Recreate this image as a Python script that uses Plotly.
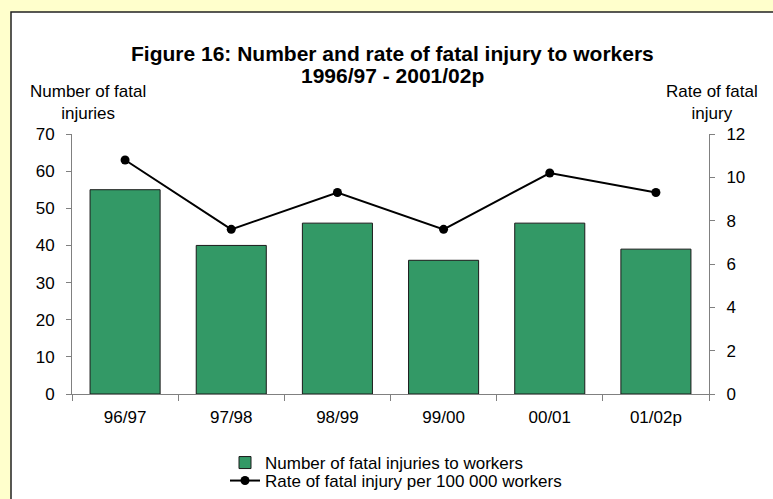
import plotly.graph_objects as go

categories = ["96/97", "97/98", "98/99", "99/00", "00/01", "01/02p"]
fatal_injuries = [55, 40, 46, 36, 46, 39]
fatal_rate = [10.8, 7.6, 9.3, 7.6, 10.2, 9.3]

left_ticks = [0, 10, 20, 30, 40, 50, 60, 70]
right_ticks = [0, 2, 4, 6, 8, 10, 12]

FONT = "Liberation Sans, Arial, sans-serif"
W, H = 773, 499
ML, MR, MT, MB = 72, 64, 134, 105
PW, PH = W - ML - MR, H - MT - MB

def px_x(px):
    return (px - ML) / PW

def px_y(py):
    return (H - MB - py) / PH

fig = go.Figure()
fig.add_trace(go.Bar(
    x=categories, y=fatal_injuries,
    name="Number of fatal injuries to workers",
    marker=dict(color="#339966", line=dict(color="#1a1a1a", width=1)),
    yaxis="y", legend="legend",
))
fig.add_trace(go.Scatter(
    x=categories, y=fatal_rate,
    name="Rate of fatal injury per 100 000 workers",
    mode="lines+markers",
    line=dict(color="black", width=2),
    marker=dict(color="black", size=9),
    yaxis="y2", legend="legend2",
))

axis_gray = "#808080"
TS = 17
leg_common = dict(
    xref="container", yref="container", xanchor="left", yanchor="middle",
    bgcolor="rgba(0,0,0,0)", font=dict(size=TS), borderwidth=0,
)
fig.update_layout(
    width=W, height=H,
    margin=dict(l=ML, r=MR, t=MT, b=MB, pad=0, autoexpand=False),
    paper_bgcolor="#FFFFCC",
    plot_bgcolor="white",
    font=dict(family=FONT, size=TS, color="black"),
    bargap=0.34,
    showlegend=True,
    legend=dict(x=225 / W, y=1 - 463 / H, **leg_common),
    legend2=dict(x=225 / W, y=1 - 481 / H, **leg_common),
    xaxis=dict(
        type="category", showline=True, linecolor=axis_gray, linewidth=1,
        ticks="outside", ticklen=6, tickcolor=axis_gray, tickson="boundaries",
        showgrid=False, zeroline=False, ticklabelstandoff=8,
        tickfont=dict(size=TS), automargin=False,
    ),
    xaxis2=dict(
        overlaying="x", anchor="y", range=[-0.5, 5.5], tick0=-0.5, dtick=1,
        ticks="inside", ticklen=6, tickcolor=axis_gray, showticklabels=False,
        showgrid=False, zeroline=False, showline=False, automargin=False,
    ),
    yaxis=dict(
        range=[0, 70], tickvals=left_ticks, showline=True, linecolor=axis_gray,
        ticks="outside", ticklen=5, tickcolor=axis_gray, showgrid=False,
        zeroline=False, ticklabelstandoff=8, tickfont=dict(size=TS),
        automargin=False,
    ),
    yaxis2=dict(
        range=[0, 12], tickvals=right_ticks, overlaying="y", side="right",
        anchor="x", showline=True, linecolor=axis_gray, ticks="outside",
        ticklen=5, tickcolor=axis_gray, showgrid=False, zeroline=False,
        ticklabelstandoff=8, tickfont=dict(size=TS), automargin=False,
    ),
    yaxis3=dict(
        range=[0, 70], tickvals=left_ticks, overlaying="y", side="left",
        anchor="x", ticks="inside", ticklen=5, tickcolor=axis_gray,
        showticklabels=False, showgrid=False, zeroline=False, showline=False,
        automargin=False,
    ),
    yaxis4=dict(
        range=[0, 12], tickvals=right_ticks, overlaying="y", side="right",
        anchor="x", ticks="inside", ticklen=5, tickcolor=axis_gray,
        showticklabels=False, showgrid=False, zeroline=False, showline=False,
        automargin=False,
    ),
)

# inner white chart area with dark border
fig.add_shape(
    type="rect", xref="paper", yref="paper",
    x0=px_x(11), x1=px_x(790), y0=px_y(520), y1=px_y(12),
    line=dict(color="#222222", width=1.5), fillcolor="white", layer="below",
)

fig.add_annotation(
    text="<b>Figure 16: Number and rate of fatal injury to workers</b>",
    xref="paper", yref="paper", x=px_x(392), y=px_y(53),
    xanchor="center", yanchor="middle", showarrow=False,
    font=dict(size=21, family=FONT),
)
fig.add_annotation(
    text="<b>1996/97 - 2001/02p</b>",
    xref="paper", yref="paper", x=px_x(392), y=px_y(76),
    xanchor="center", yanchor="middle", showarrow=False,
    font=dict(size=21, family=FONT),
)
fig.add_annotation(
    text="Number of fatal<br>injuries", xref="paper", yref="paper",
    x=px_x(88), y=px_y(102), xanchor="center", yanchor="middle",
    showarrow=False, font=dict(size=TS, family=FONT),
)
fig.add_annotation(
    text="Rate of fatal<br>injury", xref="paper", yref="paper",
    x=px_x(712), y=px_y(102), xanchor="center", yanchor="middle",
    showarrow=False, font=dict(size=TS, family=FONT),
)

fig.write_html(
    "out.html",
    config={"displayModeBar": False},
    post_script="document.body.style.margin='0';document.body.style.padding='0';",
)
